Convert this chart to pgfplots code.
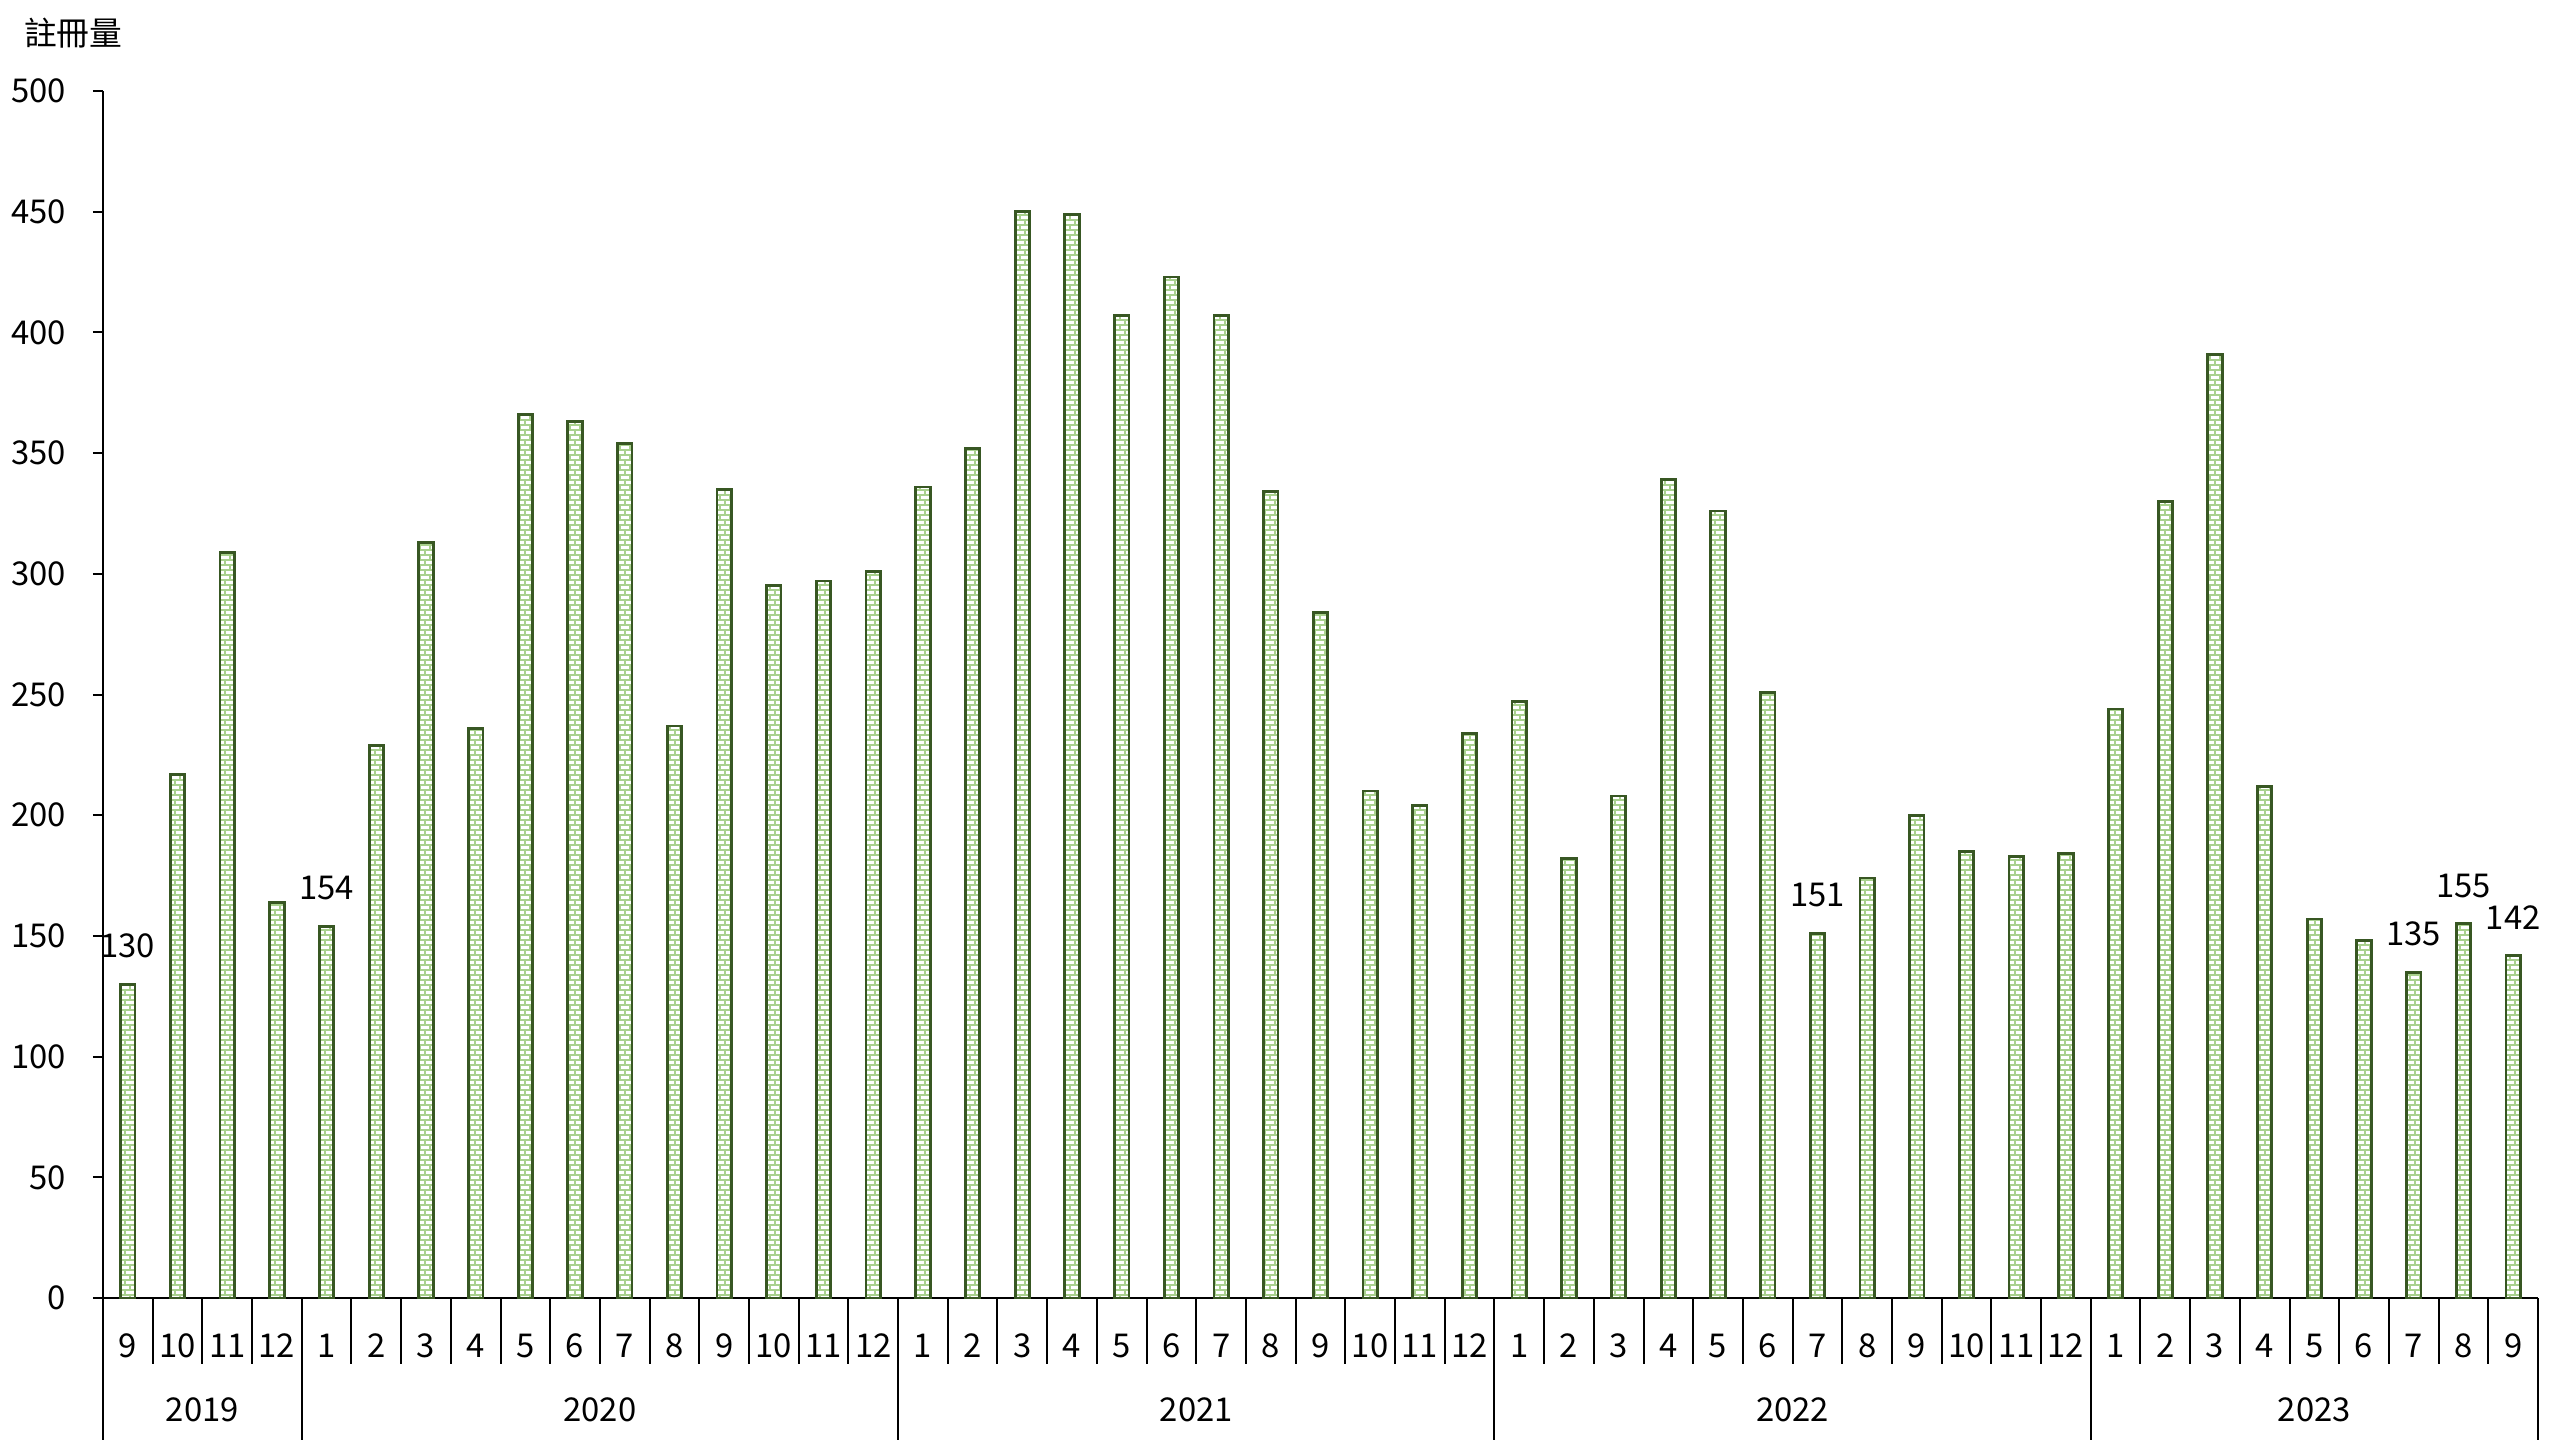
\documentclass[border=0pt]{standalone}
\usepackage{pgfplots}
\usepackage{pgfplotstable}
\pgfplotsset{compat=1.18}
\usepackage{fontspec}
\setmainfont{Noto Sans CJK TC}
\usetikzlibrary{patterns}
\definecolor{barborder}{HTML}{385723}
\definecolor{brickcol}{HTML}{A9D18E}
\pgfdeclarepatternformonly{minibricks}{\pgfqpoint{-0.2pt}{-0.2pt}}{\pgfqpoint{2.7pt}{2.7pt}}{\pgfqpoint{2.5pt}{2.5pt}}{%
 \pgfsetlinewidth{0.3pt}%
 \pgfpathmoveto{\pgfqpoint{0pt}{0pt}}\pgfpathlineto{\pgfqpoint{2.5pt}{0pt}}%
 \pgfpathmoveto{\pgfqpoint{0pt}{1.25pt}}\pgfpathlineto{\pgfqpoint{2.5pt}{1.25pt}}%
 \pgfpathmoveto{\pgfqpoint{0pt}{0pt}}\pgfpathlineto{\pgfqpoint{0pt}{1.25pt}}%
 \pgfpathmoveto{\pgfqpoint{1.25pt}{1.25pt}}\pgfpathlineto{\pgfqpoint{1.25pt}{2.5pt}}%
 \pgfusepath{stroke}}
\pgfplotstableread{
x y
0 130
1 217
2 309
3 164
4 154
5 229
6 313
7 236
8 366
9 363
10 354
11 237
12 335
13 295
14 297
15 301
16 336
17 352
18 450
19 449
20 407
21 423
22 407
23 334
24 284
25 210
26 204
27 234
28 247
29 182
30 208
31 339
32 326
33 251
34 151
35 174
36 200
37 185
38 183
39 184
40 244
41 330
42 391
43 212
44 157
45 148
46 135
47 155
48 142
}\datatable
\pgfplotstableread{
x y
0 130
4 154
34 151
46 135
47 155
48 142
}\labeltable
\begin{document}
\begin{tikzpicture}[font=\fontsize{8.2pt}{10pt}\selectfont]
\begin{axis}[
  scale only axis, width=608.75pt, height=301.75pt,
  xmin=-0.5, xmax=48.5, ymin=0, ymax=500,
  axis x line*=bottom, axis y line*=left,
  axis line style={black, line width=0.5pt, -},
  ytick={0,50,...,500},
  tick align=outside, major tick length=2.5pt,
  ytick style={black, line width=0.5pt},
  xtick style={draw=none},
  xtick={0,...,48},
  xticklabels={9,10,11,12,1,2,3,4,5,6,7,8,9,10,11,12,1,2,3,4,5,6,7,8,9,10,11,12,1,2,3,4,5,6,7,8,9,10,11,12,1,2,3,4,5,6,7,8,9},
  xticklabel style={anchor=center, yshift=-9.5pt},
  yticklabel style={xshift=-3.3pt},
  /pgf/number format/assume math mode=true,
  clip=false,
]
\addplot[ybar, bar width=3.6pt, draw=barborder, line width=0.7pt, pattern=minibricks, pattern color=brickcol] table[x=x,y=y] {\datatable};
\addplot[draw=none, mark=none, nodes near coords, point meta=y,
  nodes near coords style={anchor=south, yshift=3pt}] table[x=x,y=y] {\labeltable};
\pgfplotsinvokeforeach{0,...,47}{\draw[black, line width=0.5pt] (axis cs:#1.5,0) -- ++(0pt,-16.5pt);}
\pgfplotsinvokeforeach{-0.5,3.5,15.5,27.5,39.5,48.5}{\draw[black, line width=0.5pt] (axis cs:#1,0) -- ++(0pt,-35.5pt);}
\node at (axis cs:1.5,0) [yshift=-28pt] {2019};
\node at (axis cs:9.5,0) [yshift=-28pt] {2020};
\node at (axis cs:21.5,0) [yshift=-28pt] {2021};
\node at (axis cs:33.5,0) [yshift=-28pt] {2022};
\node at (axis cs:44,0) [yshift=-28pt] {2023};
\node[anchor=west] at (rel axis cs:0,1) [xshift=-23.25pt, yshift=14.5pt] {註冊量};
\coordinate (bl) at (rel axis cs:0,0);
\end{axis}
\pgfresetboundingbox
\useasboundingbox ([xshift=-25.75pt, yshift=-35.5pt]bl) rectangle ([xshift=614.25pt, yshift=324.5pt]bl);
\end{tikzpicture}
\end{document}
